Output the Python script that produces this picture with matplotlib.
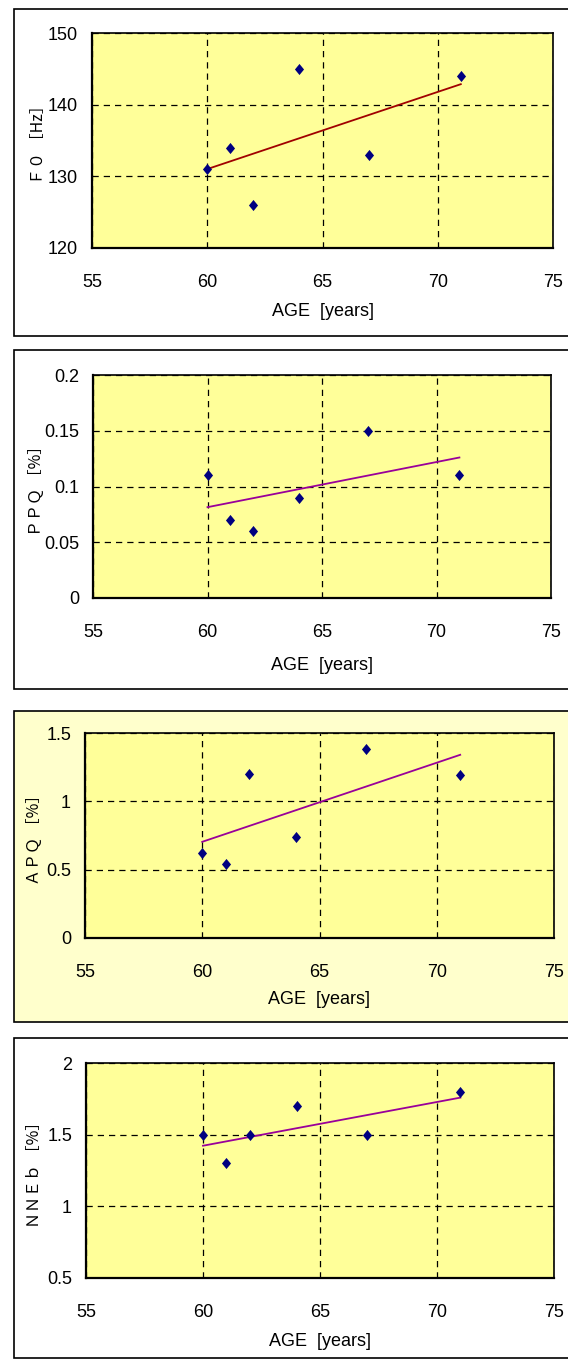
import numpy as np
import matplotlib
matplotlib.use("Agg")
import matplotlib.pyplot as plt
from matplotlib.patches import Rectangle
from matplotlib.ticker import FuncFormatter

# ---------------- data ----------------
age = [60, 61, 62, 64, 67, 71]
f0 = [131, 134, 126, 145, 133, 144]
ppq = [0.11, 0.07, 0.06, 0.09, 0.15, 0.11]
apq = [0.62, 0.54, 1.20, 0.74, 1.38, 1.19]
nneb = [1.5, 1.3, 1.5, 1.7, 1.5, 1.8]

x_ticks = [55, 60, 65, 70, 75]
f0_ticks = [120, 130, 140, 150]
ppq_ticks = [0, 0.05, 0.1, 0.15, 0.2]
apq_ticks = [0, 0.5, 1, 1.5]
nneb_ticks = [0.5, 1, 1.5, 2]

x_label = "AGE  [years]"
y_labels = ["Ｆ０ ［Hz］", "ＰＰＱ ［%］", "ＡＰＱ ［%］", "ＮＮＥｂ ［%］"]

# ---------------- style ----------------
W, H = 568, 1360
DPI = 100
TICK_FONT = ["Liberation Sans", "Noto Sans CJK JP"]
YLAB_FONT = ["Noto Sans CJK JP", "DejaVu Sans"]
PLOT_BG = "#FFFF99"
MARKER_C = "#000080"
diamond = [(0, 1), (0.82, 0), (0, -1), (-0.82, 0), (0, 1)]

fig = plt.figure(figsize=(W / DPI, H / DPI), dpi=DPI)
fig.patch.set_facecolor("white")

panels = [
    dict(ax=(92, 553, 33, 248), box=(9, 336, "white"), ylx=38, xlab=312),
    dict(ax=(93, 551, 375, 598), box=(350, 689, "white"), ylx=36, xlab=665),
    dict(ax=(85, 554, 733, 938), box=(711, 1022, "#FFFFCC"), ylx=34, xlab=1000),
    dict(ax=(86, 554, 1063, 1278), box=(1038, 1358, "white"), ylx=35, xlab=1342),
]
series = [f0, ppq, apq, nneb]
yticks = [f0_ticks, ppq_ticks, apq_ticks, nneb_ticks]
trend_colors = ["#A00000", "#990099", "#990099", "#990099"]

for p, ys, yt, tc, yl in zip(panels, series, yticks, trend_colors, y_labels):
    bt, bb, bfc = p["box"]
    fig.patches.append(Rectangle((14 / W, 1 - bb / H), (580 - 14) / W, (bb - bt) / H,
                                 transform=fig.transFigure, facecolor=bfc,
                                 edgecolor="black", linewidth=1.2, zorder=-10))
    l, r, t, b = p["ax"]
    ax = fig.add_axes([l / W, 1 - b / H, (r - l) / W, (b - t) / H], zorder=1)
    ax.set_facecolor(PLOT_BG)
    ax.set_xlim(x_ticks[0], x_ticks[-1])
    ax.set_ylim(yt[0], yt[-1])
    ax.set_xticks(x_ticks)
    ax.set_yticks(yt)
    ax.xaxis.set_major_formatter(FuncFormatter(lambda v, pos: "%g" % v))
    ax.yaxis.set_major_formatter(FuncFormatter(lambda v, pos: "%g" % v))
    ax.tick_params(length=0, labelsize=13)
    ax.tick_params(axis="x", pad=19)
    ax.tick_params(axis="y", pad=10)
    for lab in ax.get_xticklabels() + ax.get_yticklabels():
        lab.set_family(TICK_FONT)
    ax.grid(True, color="black", linestyle=(0, (5, 4)), linewidth=0.9)
    ax.set_axisbelow(True)
    for s in ax.spines.values():
        s.set_color("black")
        s.set_linewidth(1.2)
    ax.spines["left"].set_linewidth(1.6)
    ax.spines["bottom"].set_linewidth(1.6)

    k, c = np.polyfit(age, ys, 1)
    xs = np.array([min(age), max(age)])
    ax.plot(xs, k * xs + c, color=tc, linewidth=1.3, zorder=3)
    ax.plot(age, ys, linestyle="none", marker=diamond, markersize=8,
            color=MARKER_C, markeredgewidth=0, zorder=4, clip_on=False)

    ax.set_xlabel(x_label, family=TICK_FONT, fontsize=13, va="center")
    ax.xaxis.set_label_coords(0.5, (b - p["xlab"]) / (b - t))
    ax.set_ylabel(yl, family=YLAB_FONT, fontsize=11.5, va="center")
    ax.yaxis.set_label_coords((p["ylx"] - l) / (r - l), 0.5)

fig.savefig("out.png", dpi=DPI, facecolor=fig.get_facecolor())
